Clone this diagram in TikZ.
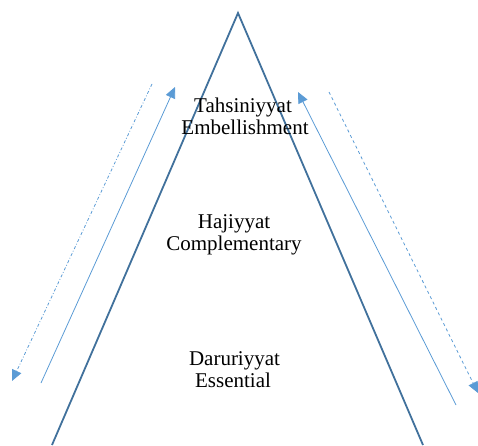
\documentclass[tikz,border=0pt]{standalone}
\usepackage{fontspec}
\setmainfont{Liberation Serif}
\usetikzlibrary{arrows.meta}
\definecolor{tri}{HTML}{41719C}
\definecolor{arr}{HTML}{5B9BD5}
\begin{document}
\begin{tikzpicture}[x=1pt,y=1pt,
  lbl/.style={anchor=base,font=\fontsize{21}{25}\selectfont,inner sep=0pt},
  side/.style={draw=tri,line width=1.8pt},
  flow/.style={draw=arr,line width=0.8pt,-{Triangle[length=11pt,width=10pt]}}]
\useasboundingbox (0,0) rectangle (478,445);
% triangle
\coordinate (apex) at (238,432);
\coordinate (bl) at (52,0);
\coordinate (br) at (423,0);
\draw[side] (bl) -- (apex) -- (br);
% labels
\node[lbl] (t1) at (243,332) {Tahsiniyyat};
\node[lbl] (t2) at (245,310) {Embellishment};
\node[lbl] (h1) at (234,217) {Hajiyyat};
\node[lbl] (h2) at (234,195) {Complementary};
\node[lbl] (d1) at (234.5,80) {Daruriyyat};
\node[lbl] (d2) at (233,58) {Essential};
% left arrows
\coordinate (l1s) at (41,62);
\coordinate (l1e) at (175,358);
\draw[flow] (l1s) -- (l1e);
\coordinate (l2s) at (152,361);
\coordinate (l2e) at (12,64);
\draw[flow,dash dot] (l2s) -- (l2e);
% right arrows
\coordinate (r1s) at (456,40);
\coordinate (r1e) at (298,353);
\draw[flow] (r1s) -- (r1e);
\coordinate (r2s) at (329,353);
\coordinate (r2e) at (478,52);
\draw[flow,dashed] (r2s) -- (r2e);
\end{tikzpicture}
\end{document}
